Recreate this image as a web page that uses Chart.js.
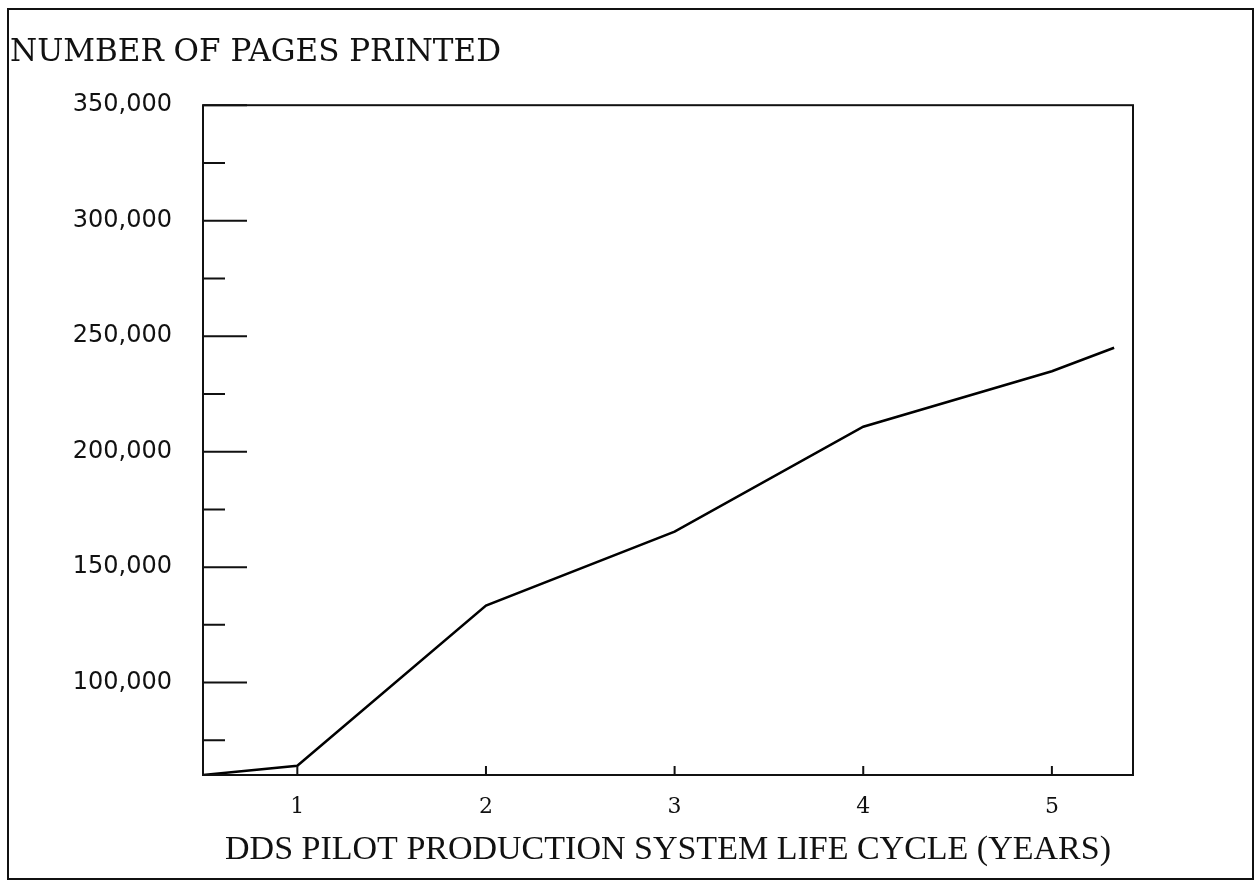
<!DOCTYPE html>
<html>
<head>
<meta charset="utf-8">
<script src="https://cdn.jsdelivr.net/npm/chart.js@4"></script>
<style>
    html, body { margin: 0; padding: 0; background: #fff; }
    #wrap { position: relative; width: 1255px; height: 895px; }
    #frame {
        position: absolute; left: 7px; top: 8px; width: 1243px; height: 868px;
        border: 2px solid #111; pointer-events: none;
    }
</style>
</head>
<body>
<div id="wrap">
    <canvas id="pagesChart"></canvas>
    <div id="frame"></div>
</div>
<script>
// data
const years = [0.5, 1, 2, 3, 4, 5, 5.33];
const pagesPrinted = [60000, 64000, 133400, 165400, 210800, 234800, 245000];

const xTicks = [1, 2, 3, 4, 5];
const yMajorTicks = [100000, 150000, 200000, 250000, 300000, 350000];
const yMinorTicks = [75000, 125000, 175000, 225000, 275000, 325000];

const titleText = "NUMBER OF PAGES PRINTED";
const xAxisTitle = "DDS PILOT PRODUCTION SYSTEM LIFE CYCLE (YEARS)";

// frame + inward tick marks, like the old plotter output
const axisMarks = {
    id: 'axisMarks',
    afterDraw(chart) {
        const ctx = chart.ctx;
        const area = chart.chartArea;
        const xs = chart.scales.x;
        const ys = chart.scales.y;
        ctx.save();
        ctx.strokeStyle = '#111';
        ctx.lineWidth = 2;
        ctx.strokeRect(area.left, area.top, area.right - area.left, area.bottom - area.top);

        ctx.beginPath();
        yMajorTicks.forEach(v => {
            const y = ys.getPixelForValue(v);
            ctx.moveTo(area.left, y);
            ctx.lineTo(area.left + 44, y);
        });
        yMinorTicks.forEach(v => {
            const y = ys.getPixelForValue(v);
            ctx.moveTo(area.left, y);
            ctx.lineTo(area.left + 22, y);
        });
        xTicks.forEach(v => {
            const x = xs.getPixelForValue(v);
            ctx.moveTo(x, area.bottom);
            ctx.lineTo(x, area.bottom - 9);
        });
        ctx.stroke();
        ctx.restore();
    }
};

const ctx = document.getElementById('pagesChart').getContext('2d');
new Chart(ctx, {
    type: 'line',
    data: {
        datasets: [
            {
                label: 'Pages printed',
                data: years.map((yr, i) => ({x: yr, y: pagesPrinted[i]})),
                borderColor: '#000',
                borderWidth: 2.5,
                pointRadius: 0,
                tension: 0,
                fill: false
            }
        ]
    },
    options: {
        responsive: true,
        maintainAspectRatio: false,
        animation: false,
        layout: {
            padding: {left: 10, right: 122, top: 0, bottom: 0}
        },
        plugins: {
            legend: {display: false},
            tooltip: {enabled: false},
            title: {
                display: true,
                text: titleText,
                align: 'start',
                color: '#111',
                font: {family: "'DejaVu Serif', serif", size: 31, weight: 'normal'},
                padding: {top: 34, bottom: 34}
            }
        },
        scales: {
            x: {
                type: 'linear',
                min: 0.5,
                max: 5.43,
                afterBuildTicks: (scale) => {
                    scale.ticks = xTicks.map(v => ({value: v}));
                },
                afterFit: (scale) => {
                    scale.height = 120;
                },
                grid: {display: false, drawTicks: false},
                border: {display: false},
                ticks: {
                    color: '#111',
                    padding: 19,
                    maxRotation: 0,
                    font: {family: "'DejaVu Serif', serif", size: 22},
                    callback: (value) => String(value)
                },
                title: {
                    display: true,
                    text: xAxisTitle,
                    color: '#111',
                    font: {family: "'Liberation Serif', serif", size: 34},
                    padding: {top: 25, bottom: 25}
                }
            },
            y: {
                min: 60000,
                max: 350000,
                afterBuildTicks: (scale) => {
                    scale.ticks = [...yMinorTicks, ...yMajorTicks]
                        .sort((a, b) => a - b)
                        .map(v => ({value: v}));
                },
                afterFit: (scale) => {
                    scale.width = 193;
                },
                grid: {display: false, drawTicks: false},
                border: {display: false},
                ticks: {
                    color: '#111',
                    padding: 31,
                    font: {family: "'DejaVu Sans', sans-serif", size: 24},
                    callback: (value) => yMajorTicks.includes(value) ? value.toLocaleString('en-US') : ''
                }
            }
        }
    },
    plugins: [axisMarks]
});
</script>
</body>
</html>
